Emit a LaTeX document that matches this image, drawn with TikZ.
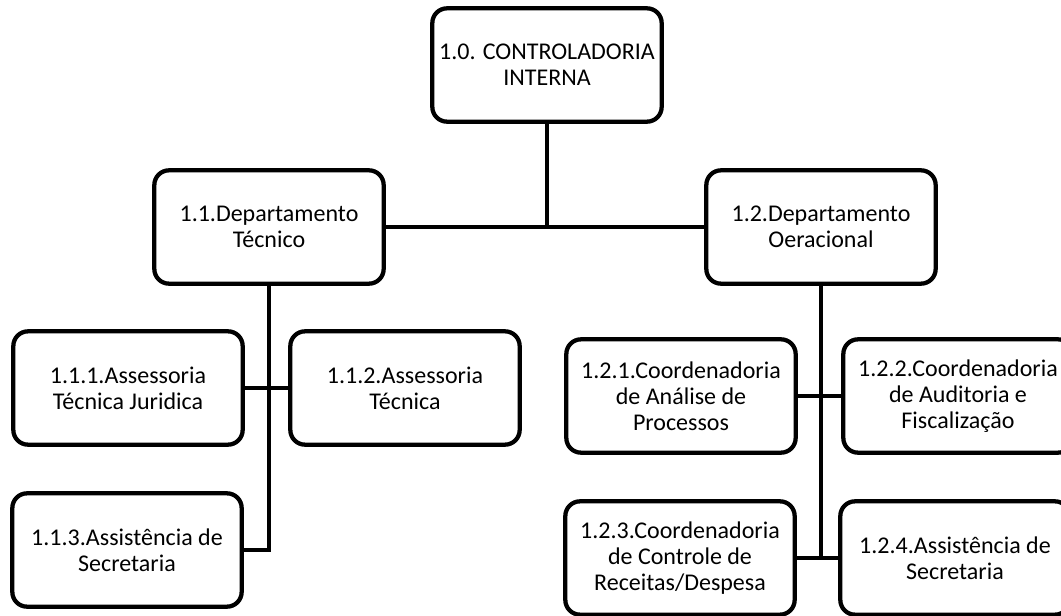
\documentclass[tikz,border=0pt]{standalone}
\usepackage{fontspec}
\setmainfont{Carlito}
\usetikzlibrary{positioning}

\begin{document}
\begin{tikzpicture}[
  x=0.75pt, y=-0.75pt,
  box/.style={draw, line width=3.2pt, rounded corners=11pt, align=center, minimum width=172pt, minimum height=85pt, inner sep=2pt, font=\fontsize{18}{19.5}\selectfont},
  link/.style={line width=2.8pt}
]
\clip (0,0) rectangle (1061,616);
\node[box] (root) at (547,65) {1.0. CONTROLADORIA\\INTERNA};
\node[box] (d11) at (269,227) {1.1.Departamento\\Técnico};
\node[box] (d12) at (821,227) {1.2.Departamento\\Oeracional};
\node[box] (a111) at (128,388) {1.1.1.Assessoria\\Técnica Juridica};
\node[box] (a112) at (405,388) {1.1.2.Assessoria\\Técnica};
\node[box] (a113) at (127,550) {1.1.3.Assistência de\\Secretaria};
\node[box] (c121) at (681,396) {1.2.1.Coordenadoria\\de Análise de\\Processos};
\node[box] (c122) at (958,396) {1.2.2.Coordenadoria\\de Auditoria e\\Fiscalização};
\node[box] (c123) at (680,558) {1.2.3.Coordenadoria\\de Controle de\\Receitas/Despesa};
\node[box] (c124) at (955,558) {1.2.4.Assistência de\\Secretaria};
\draw[link] (d11.east) -- (d12.west);
\draw[link] (root.south) -- (root.south |- d11.east);
\draw[link] (d11.south) -- (d11.south |- a113.east) -- (a113.east);
\draw[link] (a111.east) -- (a112.west);
\draw[link] (d12.south) -- (d12.south |- c123.east) -- (c123.east);
\draw[link] (c121.east) -- (c122.west);
\draw[link] (c123.east) -- (c124.west);
\end{tikzpicture}
\end{document}
